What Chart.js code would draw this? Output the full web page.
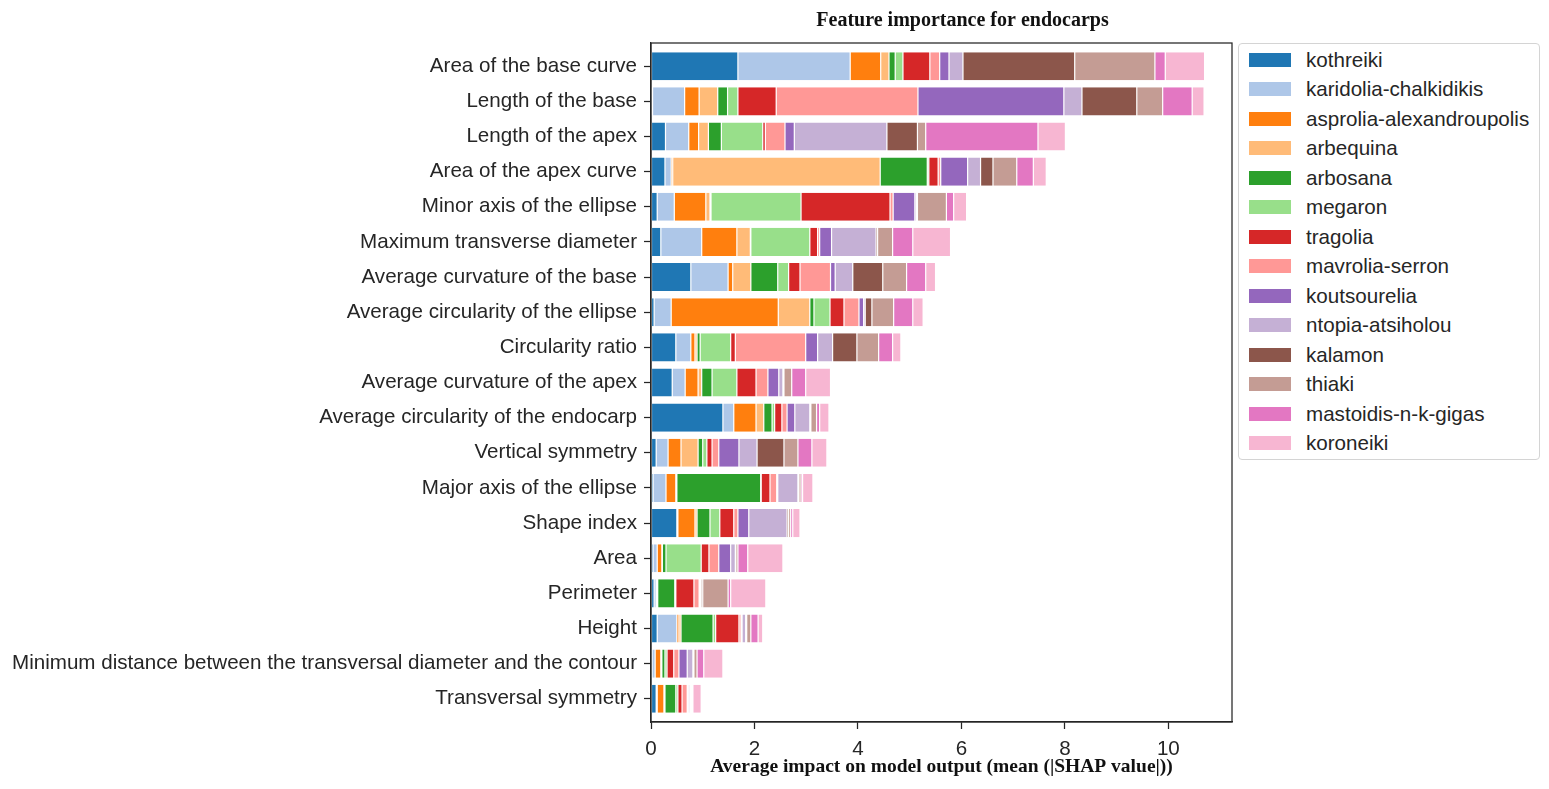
<!DOCTYPE html>
<html lang="en">
<head>
<meta charset="UTF-8">
<title>Feature importance for endocarps</title>
<script src="https://cdn.jsdelivr.net/npm/chart.js"></script>
<style>
  body { margin: 0; background: #ffffff; }
  .wrap { position: relative; width: 1549px; height: 789px; }
  #legend {
    position: absolute;
    left: 1238px;
    top: 43px;
    width: 302px;
    height: 417px;
    box-sizing: border-box;
    border: 1px solid #d4d4d4;
    border-radius: 4px;
    background: #ffffff;
    padding-top: 1px;
    font-family: 'Liberation Sans', Arial, sans-serif;
    font-size: 20.6px;
    color: #262626;
  }
  #legend .item { display: flex; align-items: center; height: 29.5px; white-space: nowrap; }
  #legend .swatch { width: 42px; height: 14px; margin-left: 10px; margin-right: 15px; flex: none; }
</style>
</head>
<body>
<div class="wrap">
  <canvas id="shapChart" width="1549" height="789"></canvas>
  <div id="legend"></div>
</div>

<script>
  const features = [
    'Area of the base curve', 'Length of the base', 'Length of the apex', 'Area of the apex curve',
    'Minor axis of the ellipse', 'Maximum transverse diameter', 'Average curvature of the base',
    'Average circularity of the ellipse', 'Circularity ratio', 'Average curvature of the apex',
    'Average circularity of the endocarp', 'Vertical symmetry', 'Major axis of the ellipse',
    'Shape index', 'Area', 'Perimeter', 'Height',
    'Minimum distance between the transversal diameter and the contour', 'Transversal symmetry'
  ];

  const varieties = [
    'kothreiki', 'karidolia-chalkidikis', 'asprolia-alexandroupolis', 'arbequina', 'arbosana',
    'megaron', 'tragolia', 'mavrolia-serron', 'koutsourelia', 'ntopia-atsiholou', 'kalamon',
    'thiaki', 'mastoidis-n-k-gigas', 'koroneiki'
  ];

  // tab20 colours, one per variety
  const colors = [
    '#1f77b4', '#aec7e8', '#ff7f0e', '#ffbb78', '#2ca02c', '#98df8a', '#d62728',
    '#ff9896', '#9467bd', '#c5b0d5', '#8c564b', '#c49c94', '#e377c2', '#f7b6d2'
  ];

  // mean |SHAP| per feature (same order as features)
  const kothreiki               = [1.68, 0.03, 0.28, 0.27, 0.12, 0.19, 0.77, 0.06, 0.48, 0.41, 1.39, 0.10, 0.04, 0.50, 0.04, 0.06, 0.12, 0.02, 0.10];
  const karidoliaChalkidikis    = [2.17, 0.62, 0.45, 0.12, 0.33, 0.79, 0.72, 0.33, 0.29, 0.25, 0.21, 0.23, 0.25, 0.02, 0.08, 0.04, 0.38, 0.06, 0.02];
  const asproliaAlexandroupolis = [0.59, 0.28, 0.19, 0.03, 0.61, 0.68, 0.09, 2.07, 0.08, 0.25, 0.43, 0.25, 0.19, 0.33, 0.09, 0.02, 0.04, 0.11, 0.13];
  const arbequina               = [0.16, 0.36, 0.19, 4.01, 0.08, 0.26, 0.35, 0.61, 0.04, 0.07, 0.15, 0.33, 0.02, 0.04, 0.01, 0.01, 0.04, 0.02, 0.02];
  const arbosana                = [0.12, 0.19, 0.25, 0.91, 0.02, 0.01, 0.52, 0.08, 0.06, 0.20, 0.16, 0.09, 1.62, 0.25, 0.07, 0.33, 0.62, 0.06, 0.21];
  const megaron                 = [0.15, 0.20, 0.80, 0.03, 1.74, 1.14, 0.21, 0.31, 0.59, 0.48, 0.05, 0.08, 0.01, 0.19, 0.68, 0.02, 0.05, 0.04, 0.04];
  const tragolia                = [0.52, 0.74, 0.05, 0.18, 1.72, 0.15, 0.22, 0.27, 0.09, 0.37, 0.14, 0.10, 0.17, 0.27, 0.15, 0.35, 0.45, 0.13, 0.08];
  const mavroliaSerron          = [0.19, 2.74, 0.38, 0.05, 0.06, 0.04, 0.59, 0.29, 1.36, 0.23, 0.10, 0.13, 0.13, 0.08, 0.19, 0.10, 0.04, 0.10, 0.10];
  const koutsourelia            = [0.18, 2.82, 0.18, 0.52, 0.42, 0.23, 0.09, 0.09, 0.23, 0.21, 0.15, 0.39, 0.02, 0.21, 0.23, 0.02, 0.02, 0.16, 0.02];
  const ntopiaAtsiholou         = [0.27, 0.35, 1.79, 0.25, 0.03, 0.86, 0.34, 0.03, 0.29, 0.08, 0.29, 0.35, 0.39, 0.74, 0.09, 0.02, 0.07, 0.11, 0.03];
  const kalamon                 = [2.16, 1.06, 0.59, 0.24, 0.02, 0.03, 0.58, 0.13, 0.47, 0.02, 0.02, 0.52, 0.02, 0.03, 0.01, 0.03, 0.02, 0.02, 0.02];
  const thiaki                  = [1.55, 0.50, 0.16, 0.46, 0.56, 0.29, 0.46, 0.42, 0.42, 0.15, 0.11, 0.27, 0.04, 0.04, 0.04, 0.49, 0.08, 0.06, 0.02];
  const mastoidisNKGigas        = [0.20, 0.57, 2.17, 0.32, 0.14, 0.39, 0.37, 0.37, 0.27, 0.27, 0.06, 0.27, 0.03, 0.04, 0.19, 0.05, 0.14, 0.13, 0.02];
  const koroneiki               = [0.76, 0.23, 0.53, 0.25, 0.25, 0.73, 0.19, 0.20, 0.16, 0.48, 0.18, 0.29, 0.20, 0.14, 0.68, 0.68, 0.09, 0.37, 0.16];

  const series = [
    kothreiki, karidoliaChalkidikis, asproliaAlexandroupolis, arbequina, arbosana, megaron,
    tragolia, mavroliaSerron, koutsourelia, ntopiaAtsiholou, kalamon, thiaki, mastoidisNKGigas, koroneiki
  ];

  const xTicksStep = 2;
  const xMax = 11.23;

  const ink = '#262626';
  const sans = "'Liberation Sans', Arial, sans-serif";
  const serif = "'Liberation Serif', 'Times New Roman', serif";

  // draw the full axes frame on top of the bars, like matplotlib spines
  const frame = {
    id: 'frame',
    afterLayout(chart) {
      // the title in the original sits a little right of the axes centre
      if (chart.titleBlock) {
        chart.titleBlock.left += 21;
        chart.titleBlock.right += 21;
      }
    },
    afterDatasetsDraw(chart) {
      const { ctx, chartArea: a } = chart;
      ctx.save();
      ctx.strokeStyle = ink;
      ctx.lineWidth = 1.25;
      ctx.strokeRect(a.left, a.top, a.right - a.left, a.bottom - a.top);
      ctx.restore();
    }
  };

  const chart = new Chart(document.getElementById('shapChart'), {
    type: 'bar',
    data: {
      labels: features,
      datasets: varieties.map((name, i) => ({
        label: name,
        data: series[i],
        backgroundColor: colors[i],
        borderColor: '#ffffff',
        borderWidth: { left: 0.6, right: 0.6, top: 0, bottom: 0 },
        borderSkipped: false,
        categoryPercentage: 1,
        barPercentage: 0.8
      }))
    },
    options: {
      indexAxis: 'y',
      responsive: false,
      animation: false,
      layout: { padding: { left: 0, right: 317, top: 0, bottom: 0 } },
      scales: {
        x: {
          stacked: true,
          min: 0,
          max: xMax,
          grid: { display: true, drawOnChartArea: false, drawTicks: true, tickLength: 7, tickColor: ink, tickWidth: 1.25 },
          border: { display: true, color: ink, width: 1.25 },
          ticks: { stepSize: xTicksStep, includeBounds: false, color: ink, padding: 8, font: { family: sans, size: 20.6 } },
          title: {
            display: true,
            text: 'Average impact on model output (mean (|SHAP value|))',
            color: '#111111',
            font: { family: serif, size: 19.5, weight: 'bold' },
            padding: { top: 2, bottom: 10.3 }
          },
          afterFit(scale) { scale.height = 67; }
        },
        y: {
          stacked: true,
          offset: false,
          grid: { display: true, offset: false, drawOnChartArea: false, drawTicks: true, tickLength: 7, tickColor: ink, tickWidth: 1.25 },
          border: { display: true, color: ink, width: 1.25 },
          ticks: { color: ink, padding: 7, autoSkip: false, font: { family: sans, size: 20.6 } },
          afterBuildTicks(scale) {
            // matplotlib-style margin above the first and below the last bar
            scale._startValue = -0.66;
            scale._valueRange = features.length - 1 + 1.32;
          },
          afterFit(scale) { scale.width = 651; }
        }
      },
      plugins: {
        legend: { display: false },
        tooltip: { enabled: false },
        title: {
          display: true,
          text: 'Feature importance for endocarps',
          color: '#111111',
          fullSize: false,
          font: { family: serif, size: 20, weight: 'bold' },
          padding: { top: 9, bottom: 10 }
        }
      }
    },
    plugins: [frame]
  });

  // legend box on the right, built from the same datasets
  const legend = document.getElementById('legend');
  chart.data.datasets.forEach(ds => {
    const item = document.createElement('div');
    item.className = 'item';
    const sw = document.createElement('span');
    sw.className = 'swatch';
    sw.style.background = ds.backgroundColor;
    const txt = document.createElement('span');
    txt.textContent = ds.label;
    item.appendChild(sw);
    item.appendChild(txt);
    legend.appendChild(item);
  });
</script>
</body>
</html>
